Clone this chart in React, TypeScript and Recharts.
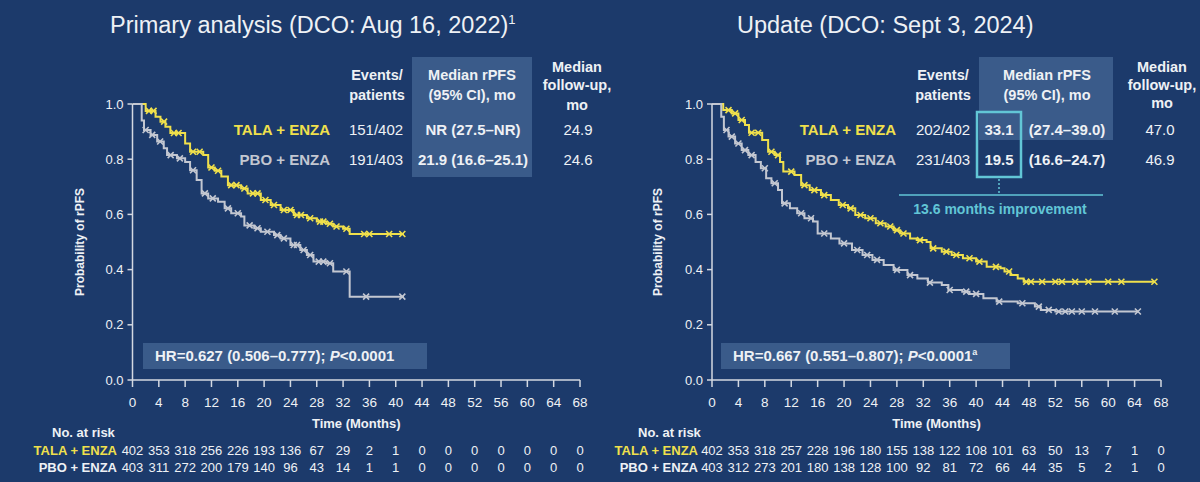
import React from "react";
import { LineChart, Line, XAxis, YAxis } from "recharts";

// ---- data ----
const monthTicks = [0, 4, 8, 12, 16, 20, 24, 28, 32, 36, 40, 44, 48, 52, 56, 60, 64, 68];
const probTicks = [0, 0.2, 0.4, 0.6, 0.8, 1.0];

// Primary analysis (DCO Aug 16, 2022)
const priTalaT = [0, 2, 3.5, 4.25, 5, 5.75, 8, 8.75, 10.75, 11.5, 12.5, 13.5, 14.5, 16.5, 17.5, 19.5, 21, 22.5, 24.5, 26.5, 28, 29.5, 30.5, 32, 33, 41.25];
const priTalaS = [1, 0.975, 0.954, 0.936, 0.918, 0.895, 0.857, 0.827, 0.815, 0.77, 0.758, 0.737, 0.706, 0.694, 0.676, 0.652, 0.634, 0.616, 0.598, 0.586, 0.574, 0.566, 0.556, 0.548, 0.529, 0.529];
const priPboT = [0, 1.4, 1.75, 2.75, 3.75, 4.75, 5.25, 6.75, 8, 8.75, 9.75, 10.5, 11.5, 13, 14, 15, 16.5, 17, 18.5, 19.5, 21.5, 22.5, 24, 25.5, 26.5, 27.5, 29.5, 30.5, 33, 41.25];
const priPboS = [1, 0.94, 0.906, 0.888, 0.864, 0.84, 0.815, 0.803, 0.79, 0.76, 0.725, 0.676, 0.658, 0.646, 0.622, 0.604, 0.592, 0.56, 0.55, 0.537, 0.525, 0.513, 0.489, 0.471, 0.453, 0.429, 0.423, 0.393, 0.302, 0.302];
const priTalaCens = [2.5, 3.2, 4.8, 6.3, 7, 9.2, 10.2, 12, 13, 15, 15.8, 17, 18.3, 19, 20.2, 21.5, 23, 24, 25, 25.6, 27, 28.5, 29, 30, 31, 32.5, 35.2, 36, 39, 41];
const priPboCens = [2, 3, 4.2, 5.8, 7.2, 9.2, 11, 12.2, 14.5, 16, 17.8, 19, 20.5, 22, 23, 24.5, 25, 26, 27, 28.3, 29, 30, 32.5, 35.5, 41];

// Update (DCO Sept 3, 2024)
const updTalaT = [0, 1.7, 3, 4, 5, 5.6, 7.6, 8.5, 9.5, 10.3, 10.8, 12.5, 13.5, 14.8, 16.5, 18, 19.2, 20.6, 21.7, 23.2, 24.8, 26.3, 27.5, 28.5, 30, 31, 32.5, 33.1, 34.8, 36.3, 38, 40, 41.6, 43.7, 44.3, 45.2, 46.3, 47.2, 67.1];
const updTalaS = [1, 0.978, 0.966, 0.942, 0.924, 0.896, 0.87, 0.827, 0.815, 0.79, 0.755, 0.743, 0.706, 0.688, 0.67, 0.652, 0.634, 0.622, 0.598, 0.586, 0.568, 0.556, 0.543, 0.531, 0.513, 0.507, 0.5, 0.477, 0.465, 0.453, 0.441, 0.429, 0.41, 0.405, 0.393, 0.38, 0.368, 0.356, 0.356];
const updPboT = [0, 1.4, 1.8, 2.5, 3.5, 4.5, 5.5, 6.6, 7.4, 8.2, 9, 10, 10.6, 11.8, 12.9, 14, 15.3, 16, 18, 19.3, 21.2, 22.8, 24.3, 26, 27.5, 29.6, 31.1, 32.7, 34.8, 35.8, 37.9, 39, 41.1, 43.1, 46.3, 48.9, 49.8, 52, 64.5];
const updPboS = [1, 0.954, 0.906, 0.882, 0.857, 0.833, 0.815, 0.79, 0.767, 0.731, 0.713, 0.688, 0.64, 0.622, 0.604, 0.586, 0.574, 0.531, 0.513, 0.495, 0.471, 0.453, 0.435, 0.417, 0.399, 0.38, 0.368, 0.353, 0.344, 0.326, 0.32, 0.312, 0.296, 0.284, 0.278, 0.266, 0.254, 0.248, 0.248];
const updTalaCens = [2.5, 3.5, 4.5, 6, 7, 9, 10, 12, 14, 15.5, 17, 19.8, 21, 22.5, 24, 25.5, 27, 28, 29, 31.5, 33.5, 35.5, 37, 39, 40.5, 43, 45, 47.6, 48.3, 50, 52, 53, 55, 57, 60, 62, 67];
const updPboCens = [2.2, 3, 4, 5, 6, 8, 9.5, 11, 13.5, 15, 17, 20, 22, 23.5, 25, 28, 30, 33, 36, 38.5, 40, 43.5, 47, 49.5, 51, 52.5, 53.5, 54.5, 56, 58, 61, 64.5];

const priRiskTala = [402, 353, 318, 256, 226, 193, 136, 67, 29, 2, 1, 0, 0, 0, 0, 0, 0, 0];
const priRiskPbo = [403, 311, 272, 200, 179, 140, 96, 43, 14, 1, 1, 0, 0, 0, 0, 0, 0, 0];
const updRiskTala = [402, 353, 318, 257, 228, 196, 180, 155, 138, 122, 108, 101, 63, 50, 13, 7, 1, 0];
const updRiskPbo = [403, 312, 273, 201, 180, 138, 128, 100, 92, 81, 72, 66, 44, 35, 5, 2, 1, 0];

// ---- styling ----
const BG = "#1c3a6b";
const BOX = "#3a5b8a";
const YELLOW = "#f0e04c";
const GREY = "#c3c7d1";
const WHITE = "#eef1f5";
const AXIS = "#d3d8e1";
const CYAN = "#62c6d6";
const FONT = "'Liberation Sans', Arial, sans-serif";

// plot areas (page pixels)
const LEFT_PLOT = { x0: 132.5, x1: 580 };
const RIGHT_PLOT = { x0: 712, x1: 1161 };
const Y_AXIS_W = 40;

const toPoints = (ts: number[], ss: number[]) => ts.map((t, i) => ({ t, s: ss[i] }));
const stepAt = (ts: number[], ss: number[], t: number) => {
  let v = ss[0];
  for (let i = 0; i < ts.length; i++) if (ts[i] <= t) v = ss[i];
  return v;
};
const censorPoints = (ts: number[], ss: number[], cens: number[]) =>
  cens.map((t) => ({ t, s: stepAt(ts, ss, t) }));

const crossDot = (color: string, id: string) => (p: any) => {
  const { cx, cy, index } = p;
  if (cx == null || cy == null) return <g key={`${id}-${index}`} />;
  const r = 3;
  return (
    <path
      key={`${id}-${index}`}
      d={`M${cx - r},${cy - r}L${cx + r},${cy + r}M${cx - r},${cy + r}L${cx + r},${cy - r}`}
      stroke={color}
      strokeWidth={1.6}
      fill="none"
    />
  );
};

type Curve = { id: string; t: number[]; s: number[]; cens: number[]; color: string };

function KMChart({ curves, offset, plot }: { curves: Curve[]; offset: number; plot: { x0: number; x1: number } }) {
  const margin = { top: 104, right: offset + 600 - plot.x1, bottom: 72, left: plot.x0 - offset - Y_AXIS_W };
  return (
    <LineChart width={600} height={482} margin={margin}>
      <XAxis
        type="number"
        dataKey="t"
        domain={[0, 68]}
        ticks={monthTicks}
        interval={0}
        allowDataOverflow
        height={30}
        stroke={AXIS}
        axisLine={{ stroke: AXIS, strokeWidth: 1.5 }}
        tickLine={{ stroke: AXIS, strokeWidth: 1.5 }}
        tickSize={7}
        tickMargin={10}
        tick={{ fill: WHITE, fontSize: 13.5, fontFamily: FONT }}
      />
      <YAxis
        type="number"
        dataKey="s"
        domain={[0, 1]}
        ticks={probTicks}
        interval={0}
        width={Y_AXIS_W}
        stroke={AXIS}
        axisLine={{ stroke: AXIS, strokeWidth: 1.5 }}
        tickLine={{ stroke: AXIS, strokeWidth: 1.5 }}
        tickSize={5}
        tickMargin={4}
        tickFormatter={(v: number) => v.toFixed(1)}
        tick={{ fill: WHITE, fontSize: 13, fontFamily: FONT }}
      />
      {curves.map((c) => (
        <Line
          key={c.id}
          data={toPoints(c.t, c.s)}
          dataKey="s"
          type="stepAfter"
          stroke={c.color}
          strokeWidth={2}
          dot={false}
          activeDot={false}
          isAnimationActive={false}
        />
      ))}
      {curves.map((c) => (
        <Line
          key={c.id + "-cens"}
          data={censorPoints(c.t, c.s, c.cens)}
          dataKey="s"
          stroke="none"
          strokeWidth={0}
          dot={crossDot(c.color, c.id)}
          activeDot={false}
          isAnimationActive={false}
        />
      ))}
    </LineChart>
  );
}

const txt = { fontFamily: FONT, fill: WHITE } as const;

function RiskRows({ labelX, plot, tala, pbo }: { labelX: number; plot: { x0: number; x1: number }; tala: number[]; pbo: number[] }) {
  const xAt = (i: number) => plot.x0 + ((plot.x1 - plot.x0) * monthTicks[i]) / 68;
  return (
    <g fontFamily={FONT} fontSize={13}>
      <text x={labelX} y={455} textAnchor="end" fill={YELLOW} fontWeight="bold">TALA + ENZA</text>
      <text x={labelX} y={471.5} textAnchor="end" fill={WHITE} fontWeight="bold">PBO + ENZA</text>
      {tala.map((v, i) => (
        <text key={"a" + i} x={xAt(i)} y={455} textAnchor="middle" fill={WHITE}>{v}</text>
      ))}
      {pbo.map((v, i) => (
        <text key={"b" + i} x={xAt(i)} y={471.5} textAnchor="middle" fill={WHITE}>{v}</text>
      ))}
    </g>
  );
}

export default function App() {
  const left: Curve[] = [
    { id: "pt", t: priTalaT, s: priTalaS, cens: priTalaCens, color: YELLOW },
    { id: "pp", t: priPboT, s: priPboS, cens: priPboCens, color: GREY },
  ];
  const right: Curve[] = [
    { id: "ut", t: updTalaT, s: updTalaS, cens: updTalaCens, color: YELLOW },
    { id: "up", t: updPboT, s: updPboS, cens: updPboCens, color: GREY },
  ];
  return (
    <div style={{ position: "absolute", left: 0, top: 0, width: 1200, height: 482, background: BG, overflow: "hidden", fontFamily: FONT }}>
      <svg width={1200} height={482} style={{ position: "absolute", left: 0, top: 0 }}>
        <rect x={412} y={57} width={120} height={120} fill={BOX} />
        <rect x={979} y={57} width={134} height={83} fill={BOX} />
        <rect x={143} y={343} width={284} height={26} fill={BOX} />
        <rect x={721} y={343} width={289} height={26} fill={BOX} />
      </svg>
      <div style={{ position: "absolute", left: 0, top: 0 }}>
        <KMChart curves={left} offset={0} plot={LEFT_PLOT} />
      </div>
      <div style={{ position: "absolute", left: 600, top: 0 }}>
        <KMChart curves={right} offset={600} plot={RIGHT_PLOT} />
      </div>
      <svg width={1200} height={482} style={{ position: "absolute", left: 0, top: 0, pointerEvents: "none" }}>
        {/* titles */}
        <text x={110} y={33} fontSize={23.5} {...txt}>
          Primary analysis (DCO: Aug 16, 2022)<tspan fontSize={13} dy={-9}>1</tspan>
        </text>
        <text x={737} y={33} fontSize={23.5} {...txt}>Update (DCO: Sept 3, 2024)</text>

        {/* left table */}
        <g fontSize={14.5} fontWeight="bold" textAnchor="middle" {...txt}>
          <text x={377} y={80}>Events/</text>
          <text x={377} y={100}>patients</text>
          <text x={472} y={80}>Median rPFS</text>
          <text x={472} y={100}>(95% CI), mo</text>
          <text x={577} y={72}>Median</text>
          <text x={577} y={90}>follow-up,</text>
          <text x={577} y={110}>mo</text>
        </g>
        <g fontSize={15} {...txt}>
          <text x={330} y={135} textAnchor="end" fontWeight="bold" fill={YELLOW}>TALA + ENZA</text>
          <text x={330} y={165} textAnchor="end" fontWeight="bold" fill={GREY}>PBO + ENZA</text>
          <text x={376} y={135} textAnchor="middle">151/402</text>
          <text x={376} y={165} textAnchor="middle">191/403</text>
          <text x={473} y={135} textAnchor="middle" fontWeight="bold">NR (27.5–NR)</text>
          <text x={473} y={165} textAnchor="middle" fontWeight="bold">21.9 (16.6–25.1)</text>
          <text x={578} y={135} textAnchor="middle">24.9</text>
          <text x={578} y={165} textAnchor="middle">24.6</text>
        </g>

        {/* right table */}
        <g fontSize={14.5} fontWeight="bold" textAnchor="middle" {...txt}>
          <text x={943} y={80}>Events/</text>
          <text x={943} y={100}>patients</text>
          <text x={1047} y={80}>Median rPFS</text>
          <text x={1047} y={100}>(95% CI), mo</text>
          <text x={1162} y={72}>Median</text>
          <text x={1162} y={90}>follow-up,</text>
          <text x={1162} y={108}>mo</text>
        </g>
        <g fontSize={15} {...txt}>
          <text x={896} y={135} textAnchor="end" fontWeight="bold" fill={YELLOW}>TALA + ENZA</text>
          <text x={896} y={165} textAnchor="end" fontWeight="bold" fill={GREY}>PBO + ENZA</text>
          <text x={943} y={135} textAnchor="middle">202/402</text>
          <text x={943} y={165} textAnchor="middle">231/403</text>
          <text x={999} y={135} textAnchor="middle" fontWeight="bold">33.1</text>
          <text x={999} y={165} textAnchor="middle" fontWeight="bold">19.5</text>
          <text x={1067} y={135} textAnchor="middle" fontWeight="bold">(27.4–39.0)</text>
          <text x={1067} y={165} textAnchor="middle" fontWeight="bold">(16.6–24.7)</text>
          <text x={1160} y={135} textAnchor="middle">47.0</text>
          <text x={1160} y={165} textAnchor="middle">46.9</text>
        </g>
        <rect x={977} y={112} width={44} height={65} fill="none" stroke={CYAN} strokeWidth={2.5} />
        <line x1={999} y1={179} x2={999} y2={193} stroke={CYAN} strokeWidth={1.5} strokeDasharray="2 2" />
        <line x1={899} y1={195} x2={1103} y2={195} stroke={CYAN} strokeWidth={1.5} />
        <text x={1000} y={214} textAnchor="middle" fontSize={14} fontWeight="bold" fontFamily={FONT} fill={CYAN}>
          13.6 months improvement
        </text>

        {/* HR boxes */}
        <text x={155} y={361} fontSize={15} fontWeight="bold" {...txt}>
          HR=0.627 (0.506–0.777); <tspan fontStyle="italic">P</tspan>{"<0.0001"}
        </text>
        <text x={733} y={361} fontSize={15} fontWeight="bold" {...txt}>
          HR=0.667 (0.551–0.807); <tspan fontStyle="italic">P</tspan>{"<0.0001"}
          <tspan fontSize={9} dy={-6}>a</tspan>
        </text>

        {/* axis titles */}
        <text transform="translate(84,242) rotate(-90)" textAnchor="middle" fontSize={12} fontWeight="bold" {...txt}>Probability of rPFS</text>
        <text transform="translate(662,242) rotate(-90)" textAnchor="middle" fontSize={12} fontWeight="bold" {...txt}>Probability of rPFS</text>
        <text x={(LEFT_PLOT.x0 + LEFT_PLOT.x1) / 2} y={428} textAnchor="middle" fontSize={13} fontWeight="bold" {...txt}>Time (Months)</text>
        <text x={(RIGHT_PLOT.x0 + RIGHT_PLOT.x1) / 2} y={428} textAnchor="middle" fontSize={13} fontWeight="bold" {...txt}>Time (Months)</text>
        <text x={52} y={437} fontSize={13} fontWeight="bold" {...txt}>No. at risk</text>
        <text x={638} y={437} fontSize={13} fontWeight="bold" {...txt}>No. at risk</text>

        {/* number at risk */}
        <RiskRows labelX={117} plot={LEFT_PLOT} tala={priRiskTala} pbo={priRiskPbo} />
        <RiskRows labelX={698} plot={RIGHT_PLOT} tala={updRiskTala} pbo={updRiskPbo} />
      </svg>
    </div>
  );
}
